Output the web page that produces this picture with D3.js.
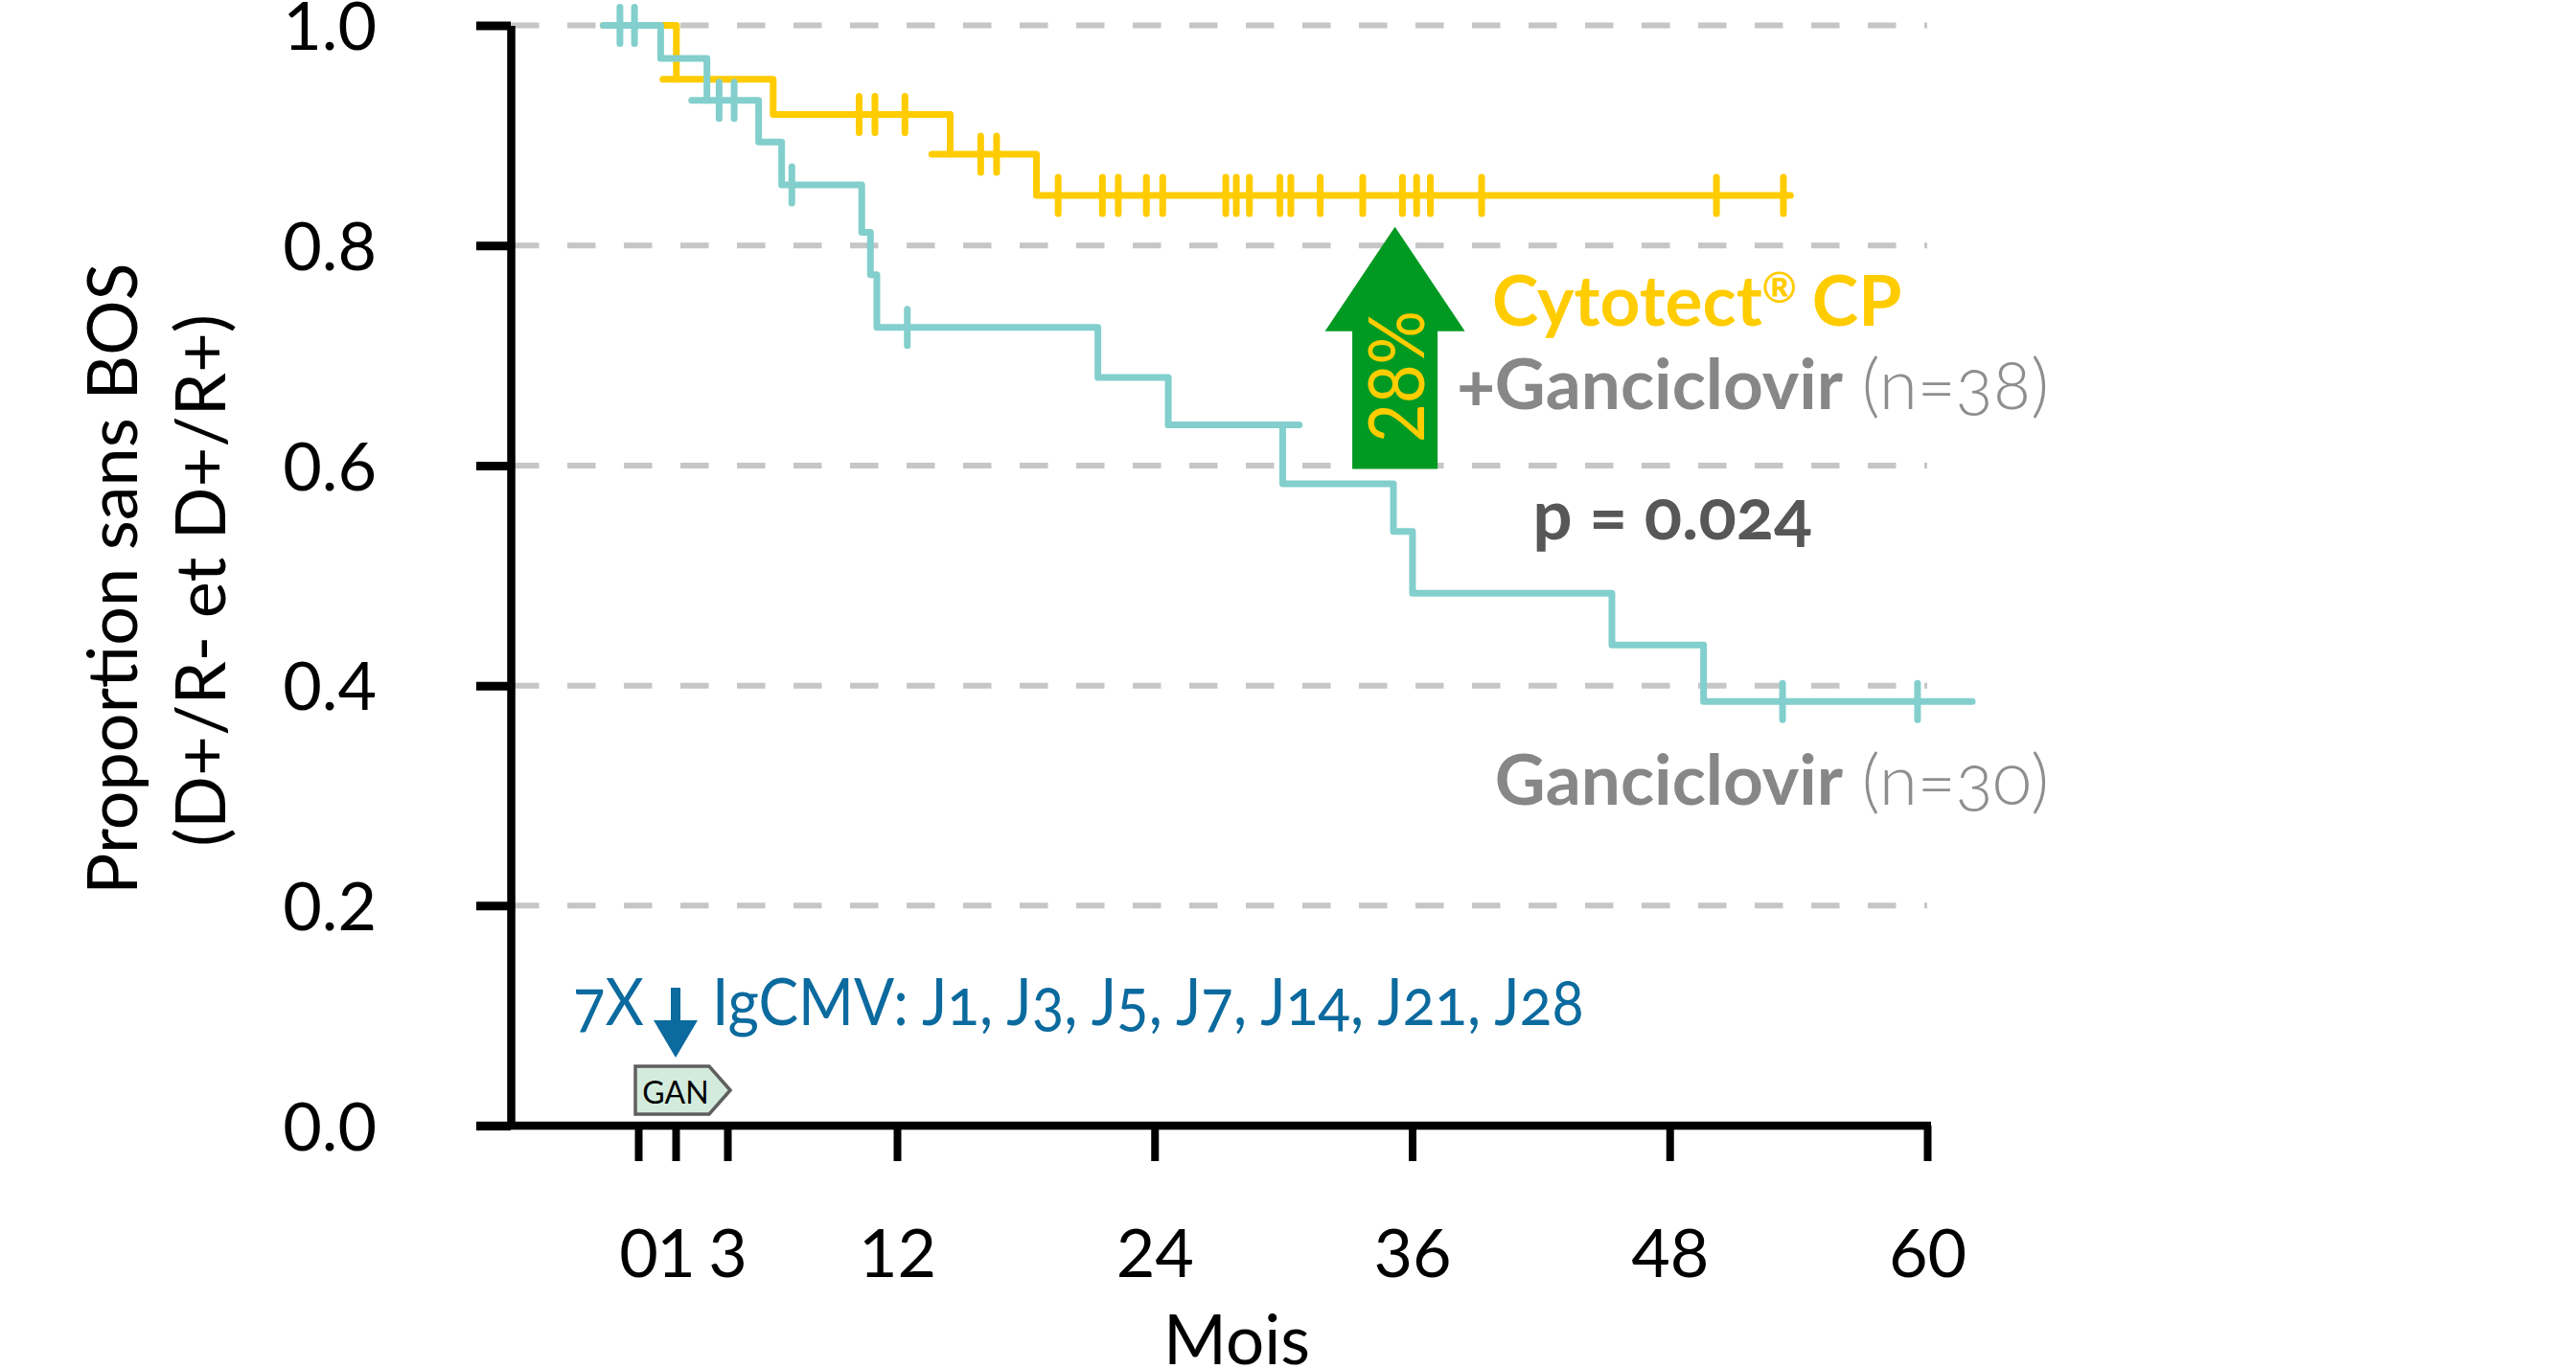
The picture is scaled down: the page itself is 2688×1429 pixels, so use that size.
<!DOCTYPE html>
<html>
<head>
<meta charset="utf-8">
<script src="https://cdn.jsdelivr.net/npm/d3@7"></script>
<style>
    body { margin: 0; background: #fff; }
    svg text { font-family: Lato, 'Open Sans', sans-serif; }
    .onum { font-variant-numeric: oldstyle-nums; font-feature-settings: 'onum' 1; }
</style>
</head>
<body>
<div id="chart"></div>
<script>
// axis ticks
const monthTicks = [0, 1, 3, 12, 24, 36, 48, 60];
const propTicks = [0, 0.2, 0.4, 0.6, 0.8, 1.0];

// Cytotect CP + Ganciclovir (n=38): steps are [month, proportion after the event]
const cytoStart = -0.94;
const cytoSteps = [[1.03, 0.951], [5.43, 0.919], [14.48, 0.883], [18.5, 0.8455]];
const cytoEnd = 53.63;
const cytoCensored = [9.99, 10.83, 12.37, 15.9, 16.64, 19.51, 21.57, 22.31, 23.62, 24.38,
    27.32, 27.81, 28.42, 29.84, 30.35, 31.72, 33.7, 35.55, 36.21, 36.85, 39.24, 50.18, 53.3];
// short overhanging pieces of level seen in the original drawing [from, to, proportion]
const cytoStubs = [[0.66, 1.03, 0.951], [13.62, 14.48, 0.883]];

// Ganciclovir (n=30)
const ganStart = -0.94;
const ganSteps = [[0.6, 0.970], [2.21, 0.932], [4.66, 0.894], [5.88, 0.855], [10.13, 0.812],
    [10.59, 0.7735], [10.93, 0.7256], [21.36, 0.680], [24.64, 0.637], [29.97, 0.5835],
    [35.13, 0.540], [36.02, 0.484], [45.31, 0.437], [49.58, 0.3855]];
const ganEnd = 62.1;
const ganCensored = [-0.49, -0.1, 2.68, 3.36, 6.42, 12.48, 53.26, 59.55];
const ganStubs = [[1.62, 2.21, 0.932], [24.64, 30.74, 0.637]];

// annotations
const gainArrow = { month: 35.2, from: 0.597, to: 0.817, label: '28%' };
const doseDays = ['J1', 'J3', 'J5', 'J7', 'J14', 'J21', 'J28'];
const ganBox = { from: 0, to: 3, label: 'GAN' };

const width = 2688;
const height = 1429;

const colors = {
    cyto: '#ffcc00',
    gan: '#82cfcd',
    grid: '#c6c6c6',
    arrow: '#009a22',
    blue: '#0b6a9e',
    label: '#878787',
    pval: '#575757',
};

// x axis is stretched between 0 and 3 months in the original
const x = d3.scaleLinear()
    .domain([0, 1, 3, 12, 60])
    .range([666, 705, 759, 936, 2011]);

const y = d3.scaleLinear()
    .domain([0, 1])
    .range([1175, 26.6]);

const axisX = 533;

const svg = d3.select('#chart')
    .append('svg')
    .attr('width', width)
    .attr('height', height);

/* GRID */
svg.append('g')
    .attr('class', 'grid')
    .selectAll('line')
    .data(propTicks.filter((d) => d > 0))
    .join('line')
    .attr('x1', axisX)
    .attr('x2', x(60))
    .attr('y1', (d) => y(d))
    .attr('y2', (d) => y(d))
    .attr('stroke', colors.grid)
    .attr('stroke-width', 6)
    .attr('stroke-dasharray', '29.5,29.5');

/* CURVES */
const line = d3.line()
    .x((d) => x(d[0]))
    .y((d) => y(d[1]))
    .curve(d3.curveStepAfter);

function levelAt(steps, t) {
    let v = 1;
    steps.forEach((s) => {
        if (s[0] <= t) v = s[1];
    });
    return v;
}

function drawCurve(cls, color, start, steps, end, stubs, censored) {
    const g = svg.append('g').attr('class', cls);
    const pts = [[start, 1], ...steps, [end, steps[steps.length - 1][1]]];

    g.append('path')
        .attr('d', line(pts))
        .attr('fill', 'none')
        .attr('stroke', color)
        .attr('stroke-width', 7)
        .attr('stroke-linejoin', 'round')
        .attr('stroke-linecap', 'round');

    g.selectAll('line.stub')
        .data(stubs)
        .join('line')
        .attr('class', 'stub')
        .attr('x1', (d) => x(d[0]))
        .attr('x2', (d) => x(d[1]))
        .attr('y1', (d) => y(d[2]))
        .attr('y2', (d) => y(d[2]))
        .attr('stroke', color)
        .attr('stroke-width', 7)
        .attr('stroke-linecap', 'round');

    g.selectAll('line.cens')
        .data(censored)
        .join('line')
        .attr('class', 'cens')
        .attr('x1', (d) => x(d))
        .attr('x2', (d) => x(d))
        .attr('y1', (d) => y(levelAt(steps, d)) - 19)
        .attr('y2', (d) => y(levelAt(steps, d)) + 19)
        .attr('stroke', color)
        .attr('stroke-width', 7)
        .attr('stroke-linecap', 'round');
}

drawCurve('cyto', colors.cyto, cytoStart, cytoSteps, cytoEnd, cytoStubs, cytoCensored);
drawCurve('gan', colors.gan, ganStart, ganSteps, ganEnd, ganStubs, ganCensored);

/* AXES */
const yAxis = svg.append('g')
    .attr('transform', `translate(${axisX},0)`)
    .call(d3.axisLeft(y)
        .tickValues(propTicks)
        .tickSize(36)
        .tickSizeOuter(0)
        .tickPadding(104)
        .tickFormat(d3.format('.1f')));

yAxis.select('.domain').attr('stroke-width', 8.5);
yAxis.selectAll('.tick line').attr('stroke-width', 9);
yAxis.selectAll('.tick text')
    .attr('dy', '0.36em')
    .style('font-size', '70px')
    .style('font-family', 'Lato, sans-serif');

const xAxis = svg.append('g')
    .attr('transform', `translate(0,${y(0)})`)
    .call(d3.axisBottom(x)
        .tickValues(monthTicks)
        .tickSize(37)
        .tickFormat(d3.format('d')));

xAxis.select('.domain').remove();
xAxis.selectAll('.tick line').attr('stroke-width', 8);
xAxis.selectAll('.tick text')
    .attr('y', 158)
    .attr('dy', 0)
    .style('font-size', '70px')
    .style('font-family', 'Lato, sans-serif');

xAxis.append('line')
    .attr('x1', axisX - 36)
    .attr('x2', x(60) + 4)
    .attr('y1', 0)
    .attr('y2', 0)
    .attr('stroke', '#000')
    .attr('stroke-width', 8.5);

svg.append('text')
    .attr('x', x(36) - 183)
    .attr('y', 1424)
    .attr('text-anchor', 'middle')
    .style('font-size', '71px')
    .text('Mois');

const yTitle = svg.append('g').attr('class', 'y-title');
yTitle.append('text')
    .attr('transform', 'translate(143,604) rotate(-90)')
    .attr('text-anchor', 'middle')
    .style('font-size', '72px')
    .text('Proportion sans BOS');
yTitle.append('text')
    .attr('transform', 'translate(235,606) rotate(-90)')
    .attr('text-anchor', 'middle')
    .style('font-size', '72px')
    .text('(D+/R- et D+/R+)');

/* GREEN ARROW */
const ax = x(gainArrow.month);
const arrowPts = [
    [ax - 44.5, y(gainArrow.from)],
    [ax - 44.5, y(0.7222)],
    [ax - 73, y(0.7222)],
    [ax, y(gainArrow.to)],
    [ax + 73, y(0.7222)],
    [ax + 44.5, y(0.7222)],
    [ax + 44.5, y(gainArrow.from)],
];
svg.append('polygon')
    .attr('points', arrowPts.map((p) => p.join(',')).join(' '))
    .attr('fill', colors.arrow);

svg.append('text')
    .attr('transform', `translate(${ax + 30},393) rotate(-90)`)
    .attr('text-anchor', 'middle')
    .attr('fill', colors.cyto)
    .attr('textLength', 138)
    .attr('lengthAdjust', 'spacingAndGlyphs')
    .style('font-size', '82px')
    .text(gainArrow.label);

/* LEGEND LABELS */
const cytoLabel = svg.append('text')
    .attr('x', 1557)
    .attr('y', 340)
    .attr('fill', colors.cyto)
    .style('font-size', '73px')
    .style('font-weight', 700);
cytoLabel.append('tspan').text('Cytotect');
cytoLabel.append('tspan').attr('dy', -24).style('font-size', '44px').text('®');
cytoLabel.append('tspan').attr('dy', 24).attr('dx', -2).text(' CP');

const plusGan = svg.append('text')
    .attr('x', 2138)
    .attr('y', 427)
    .attr('text-anchor', 'end')
    .attr('class', 'onum')
    .style('font-size', '73px');
plusGan.append('tspan').attr('fill', colors.label).style('font-weight', 700).text('+Ganciclovir');
plusGan.append('tspan').attr('fill', '#8e8e8e').style('font-weight', 300).text(' (n=38)');

svg.append('text')
    .attr('x', 1745)
    .attr('y', 563)
    .attr('text-anchor', 'middle')
    .attr('class', 'onum')
    .attr('fill', colors.pval)
    .style('font-size', '73px')
    .style('font-weight', 700)
    .text('p = 0.024');

const ganLabel = svg.append('text')
    .attr('x', 2138)
    .attr('y', 840)
    .attr('text-anchor', 'end')
    .attr('class', 'onum')
    .style('font-size', '73px');
ganLabel.append('tspan').attr('fill', colors.label).style('font-weight', 700).text('Ganciclovir');
ganLabel.append('tspan').attr('fill', '#8e8e8e').style('font-weight', 300).text(' (n=30)');

/* IgCMV DOSING */
const dose = svg.append('g').attr('class', 'dosing');
dose.append('text')
    .attr('x', 598)
    .attr('y', 1070)
    .attr('class', 'onum')
    .attr('fill', colors.blue)
    .attr('textLength', 74)
    .attr('lengthAdjust', 'spacingAndGlyphs')
    .style('font-size', '68px')
    .text('7X');
dose.append('text')
    .attr('x', 743)
    .attr('y', 1070)
    .attr('class', 'onum')
    .attr('fill', colors.blue)
    .attr('textLength', 910)
    .attr('lengthAdjust', 'spacingAndGlyphs')
    .style('font-size', '68px')
    .text('IgCMV: ' + doseDays.join(', '));

const bx = x(1);
dose.append('line')
    .attr('x1', bx)
    .attr('x2', bx)
    .attr('y1', 1031)
    .attr('y2', 1068)
    .attr('stroke', colors.blue)
    .attr('stroke-width', 10);
dose.append('polygon')
    .attr('points', [[bx - 23, 1065], [bx + 23, 1065], [bx, 1104]].map((p) => p.join(',')).join(' '))
    .attr('fill', colors.blue);

/* GAN BOX */
const g0 = x(ganBox.from) - 3;
const g1 = x(ganBox.to) + 3;
svg.append('polygon')
    .attr('points', [[g0, 1113], [g1 - 22, 1113], [g1, 1138], [g1 - 22, 1163], [g0, 1163]]
        .map((p) => p.join(',')).join(' '))
    .attr('fill', '#d3ebdc')
    .attr('stroke', '#5f5f5f')
    .attr('stroke-width', 3.5);
svg.append('text')
    .attr('x', x(1))
    .attr('y', 1152)
    .attr('text-anchor', 'middle')
    .style('font-size', '32px')
    .text(ganBox.label);
</script>
</body>
</html>
